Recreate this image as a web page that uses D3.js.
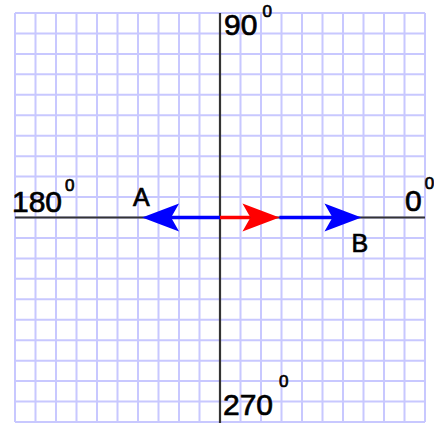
<!DOCTYPE html>
<html>
<head>
<meta charset="utf-8">
<script src="https://cdn.jsdelivr.net/npm/d3@7"></script>
<style>
  body { margin: 0; background: white; }
  text { font-family: "Liberation Sans", Arial, sans-serif; fill: #000; stroke: #000; stroke-width: 0.7px; }
</style>
</head>
<body>
<div id="container"></div>
<script>
/* DATA */
// grid runs from -10 to 10 cells on both axes
const gridLines = d3.range(-10, 11);
// angle labels round the compass
const angleNames = ["0", "90", "180", "270"];
// vectors along the horizontal axis (cells)
const vectorNames = ["A", "", "B"];
const vectorStart = [0, 0, 2.9];
const vectorEnd = [-3.8, 2.9, 6.9];
const vectorColor = ["#0000ff", "#ff0000", "#0000ff"];

/* CONSTANTS */
const width = 434, height = 423;

const xScale = d3.scaleLinear().domain([-10, 10]).range([15, 425]);
const yScale = d3.scaleLinear().domain([-10, 10]).range([422, 13]);

const svg = d3.select("#container")
  .append("svg")
  .attr("width", width)
  .attr("height", height)
  .style("background-color", "white");

// grid
svg.append("g")
  .selectAll("line.v")
  .data(gridLines)
  .enter()
  .append("line")
    .attr("x1", d => xScale(d)).attr("x2", d => xScale(d))
    .attr("y1", yScale(10)).attr("y2", yScale(-10))
    .attr("stroke", "#c8c8ff").attr("stroke-width", 2);

svg.append("g")
  .selectAll("line.h")
  .data(gridLines)
  .enter()
  .append("line")
    .attr("y1", d => yScale(d)).attr("y2", d => yScale(d))
    .attr("x1", xScale(-10)).attr("x2", xScale(10))
    .attr("stroke", "#c8c8ff").attr("stroke-width", 2);

// axes
svg.append("line")
  .attr("x1", xScale(-10)).attr("x2", xScale(10))
  .attr("y1", yScale(0)).attr("y2", yScale(0))
  .attr("stroke", "#333").attr("stroke-width", 2.2);
svg.append("line")
  .attr("x1", xScale(0)).attr("x2", xScale(0))
  .attr("y1", yScale(10)).attr("y2", height)
  .attr("stroke", "#333").attr("stroke-width", 2.2);

// vectors
const headLen = 37, headHalf = 14, notch = 29;
const vec = svg.append("g")
  .selectAll("g")
  .data(vectorEnd)
  .enter()
  .append("g");

vec.append("line")
  .attr("x1", (d, i) => xScale(vectorStart[i]))
  .attr("x2", (d, i) => xScale(d) - Math.sign(d - vectorStart[i]) * notch)
  .attr("y1", yScale(0)).attr("y2", yScale(0))
  .attr("stroke", (d, i) => vectorColor[i])
  .attr("stroke-width", 3.5);

vec.append("path")
  .attr("d", (d, i) => {
    const dir = Math.sign(d - vectorStart[i]);
    const tx = xScale(d), ty = yScale(0);
    return `M${tx},${ty}L${tx - dir * headLen},${ty - headHalf}L${tx - dir * notch},${ty}L${tx - dir * headLen},${ty + headHalf}Z`;
  })
  .attr("fill", (d, i) => vectorColor[i]);

// vector names
svg.append("text")
  .attr("x", xScale(vectorEnd[0]) - 9).attr("y", yScale(0) - 12)
  .attr("font-size", 25)
  .text(vectorNames[0]);
svg.append("text")
  .attr("x", xScale(vectorEnd[2]) - 10).attr("y", yScale(0) + 34)
  .attr("font-size", 25)
  .text(vectorNames[2]);

// angle labels with a small raised 0
function angleLabel(name, x, y, dx, dy) {
  const t = svg.append("text")
    .attr("x", x).attr("y", y)
    .attr("font-size", 30);
  t.append("tspan").text(name);
  t.append("tspan")
    .attr("dx", dx).attr("dy", dy)
    .attr("font-size", 17)
    .text("0");
}
angleLabel(angleNames[0], xScale(10) - 20, yScale(0) - 7, 3, -22);
angleLabel(angleNames[1], xScale(0) + 4, yScale(10) + 22, 5, -18);
angleLabel(angleNames[2], xScale(-10) - 3, yScale(0) - 6, 3, -21);
angleLabel(angleNames[3], xScale(0) + 3, yScale(-10) - 7, 6, -28);
</script>
</body>
</html>
